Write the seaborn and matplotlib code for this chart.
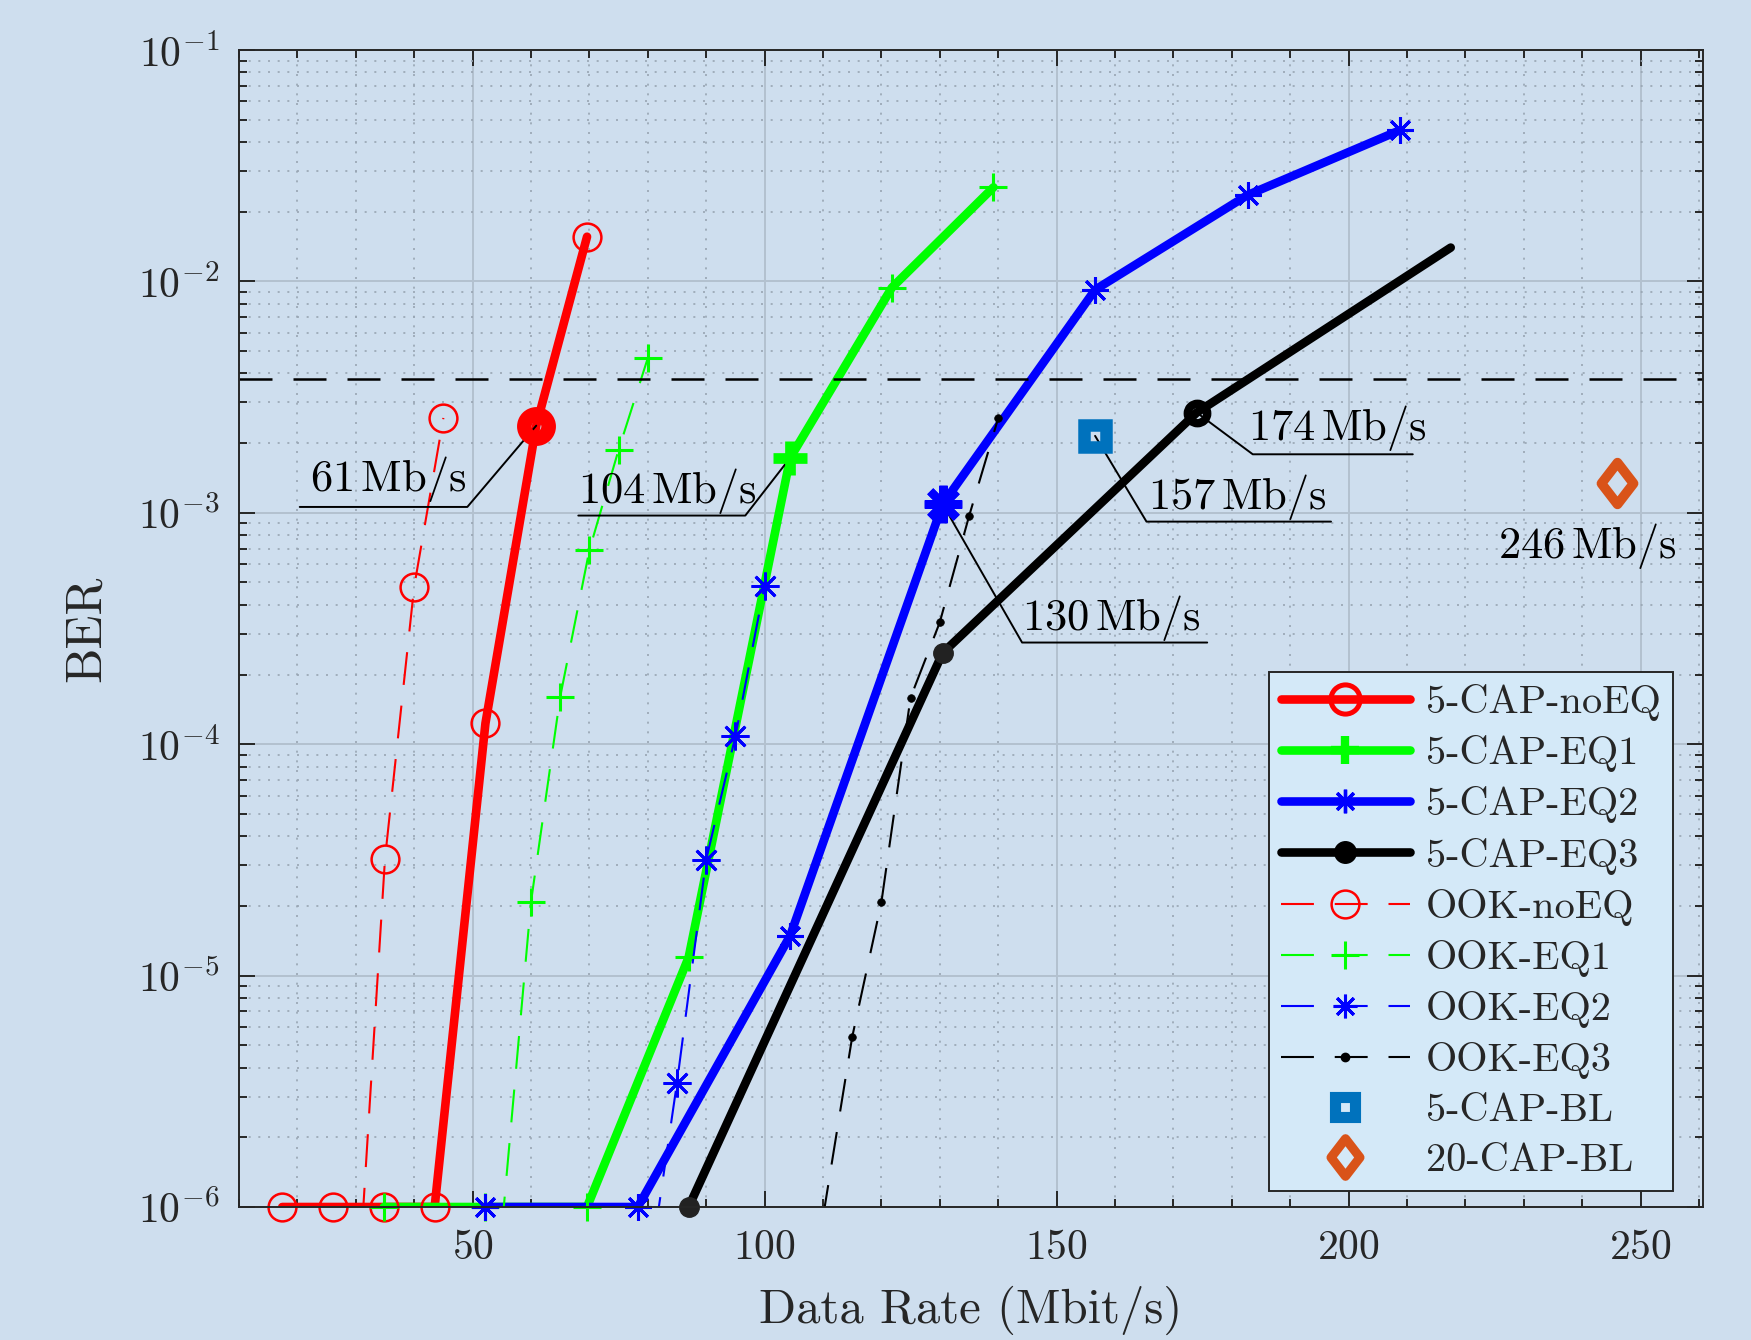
import matplotlib
matplotlib.use("Agg")
import matplotlib.pyplot as plt
import numpy as np
import seaborn as sns
from matplotlib.lines import Line2D
from matplotlib.markers import MarkerStyle
from matplotlib.path import Path
from matplotlib.ticker import MultipleLocator, LogLocator, NullFormatter

# BER against data rate, 5-CAP and OOK with the different equalisers
cap_noeq_rate = [17.4, 26.1, 34.8, 43.5, 52.2, 60.9, 69.6]
cap_noeq_ber = [1e-6, 1e-6, 1e-6, 1e-6, 1.23e-4, 2.38e-3, 1.56e-2]
cap_eq1_rate = [34.8, 52.2, 69.6, 87.0, 104.4, 121.8, 139.2]
cap_eq1_ber = [1e-6, 1e-6, 1e-6, 1.2e-5, 1.73e-3, 9.4e-3, 2.55e-2]
cap_eq2_rate = [52.2, 78.3, 104.4, 130.5, 156.6, 182.7, 208.8]
cap_eq2_ber = [1e-6, 1e-6, 1.49e-5, 1.09e-3, 9.2e-3, 2.36e-2, 4.5e-2]
cap_eq3_rate = [87.0, 130.5, 174.0, 217.5]
cap_eq3_ber = [1e-6, 2.48e-4, 2.71e-3, 1.4e-2]

ook_noeq_rate = [30, 35, 40, 45]
ook_noeq_ber = [3e-7, 3.2e-5, 4.8e-4, 2.57e-3]
ook_eq1_rate = [55, 60, 65, 70, 75, 80]
ook_eq1_ber = [8e-7, 2.08e-5, 1.6e-4, 6.9e-4, 1.87e-3, 4.66e-3]
ook_eq2_rate = [80, 85, 90, 95, 100]
ook_eq2_ber = [4.7e-7, 3.44e-6, 3.17e-5, 1.08e-4, 4.85e-4]
ook_eq3_rate = [110, 115, 120, 125, 130, 135, 140]
ook_eq3_ber = [9e-7, 5.42e-6, 2.07e-5, 1.59e-4, 3.36e-4, 9.64e-4, 2.56e-3]

bl5_rate = [156.6]
bl5_ber = [2.15e-3]
bl20_rate = [246.0]
bl20_ber = [1.34e-3]

fec_limit = 3.8e-3

legend_labels = ["5-CAP-noEQ", "5-CAP-EQ1", "5-CAP-EQ2", "5-CAP-EQ3",
                 "OOK-noEQ", "OOK-EQ1", "OOK-EQ2", "OOK-EQ3",
                 "5-CAP-BL", "20-CAP-BL"]

RED, GREEN, BLUE, BLACK = "#ff0000", "#00ff00", "#0000ff", "#000000"
BL_BLUE, BL_ORANGE = "#0072bd", "#d95319"
BG = "#cedeee"
DARK = "#262626"
ASTER = (8, 2, 0)
DIAMOND = MarkerStyle(Path([(0, 1), (0.77, 0), (0, -1), (-0.77, 0), (0, 1)],
                           [Path.MOVETO, Path.LINETO, Path.LINETO, Path.LINETO, Path.CLOSEPOLY]),
                      joinstyle="miter")
SQUARE = MarkerStyle("s", joinstyle="miter")
YMIN, YMAX = 1e-6, 1e-1

sns.set_theme(style="ticks")
plt.rcParams.update({
    "font.family": "cmr10",
    "mathtext.fontset": "cm",
    "axes.formatter.use_mathtext": True,
})

fig = plt.figure(figsize=(17.51, 13.40), dpi=100, facecolor=BG)
ax = fig.add_axes([239 / 1751, 1 - 1207 / 1340, 1464 / 1751, 1157 / 1340])
ax.set_facecolor(BG)
ax.set_yscale("log")

thick = dict(lw=6.2, solid_capstyle="round", solid_joinstyle="round")
thin = dict(lw=1.5, linestyle=(0, (15.8, 10)))


def series(rate, ber, color, line_kw, marker_kw, marker_idx=None):
    # line is clipped to the axes, markers on the BER floor are drawn whole
    sns.lineplot(x=rate, y=ber, color=color, errorbar=None, sort=False, ax=ax, **line_kw)
    r, b = np.asarray(rate), np.asarray(ber)
    keep = b >= YMIN
    if marker_idx is not None:
        keep &= np.isin(np.arange(len(r)), marker_idx)
    ax.plot(r[keep], b[keep], ls="none", clip_on=False, zorder=2.5, **marker_kw)


series(cap_noeq_rate, cap_noeq_ber, RED, thick,
       dict(marker="o", ms=20, mfc="none", mec=RED, mew=1.8))
series(cap_eq1_rate, cap_eq1_ber, GREEN, thick,
       dict(marker="+", ms=19.5, mec=GREEN, mew=2.2))
series(cap_eq2_rate, cap_eq2_ber, BLUE, thick,
       dict(marker=ASTER, ms=19, mec=BLUE, mew=2.2))
series(cap_eq3_rate, cap_eq3_ber, BLACK, thick,
       dict(marker="o", ms=14, mfc="#222222", mec="#222222", mew=1), marker_idx=[0, 1])

series(ook_noeq_rate, ook_noeq_ber, RED, thin,
       dict(marker="o", ms=20, mfc="none", mec=RED, mew=1.8))
series(ook_eq1_rate, ook_eq1_ber, GREEN, thin,
       dict(marker="+", ms=19.5, mec=GREEN, mew=2.2))
series(ook_eq2_rate, ook_eq2_ber, BLUE, thin,
       dict(marker=ASTER, ms=20, mec=BLUE, mew=2.0))
series(ook_eq3_rate, ook_eq3_ber, BLACK, thin,
       dict(marker="o", ms=5.5, mfc=BLACK, mec=BLACK, mew=0.5))

ax.plot(bl5_rate, bl5_ber, ls="none", marker=SQUARE, ms=16, mew=9,
        mec=BL_BLUE, mfc="none", zorder=5)
ax.plot(bl20_rate, bl20_ber, ls="none", marker=DIAMOND, ms=30, mew=7,
        mec=BL_ORANGE, mfc="none", zorder=5)

ax.axhline(fec_limit, color=BLACK, lw=1.8, linestyle=(0, (13.2, 8.4)), zorder=3)

# highlighted operating points at the FEC limit
i_noeq, i_eq1, i_eq2, i_eq3 = 5, 4, 3, 2
ax.plot(cap_noeq_rate[i_noeq], cap_noeq_ber[i_noeq], ls="none", marker="o", ms=17.5,
        mew=10.5, mec=RED, mfc="none", zorder=6)
ax.plot(cap_eq1_rate[i_eq1], cap_eq1_ber[i_eq1], ls="none", marker="+", ms=24.5,
        mew=7.7, mec=GREEN, zorder=6)
ax.plot(cap_eq2_rate[i_eq2], cap_eq2_ber[i_eq2], ls="none", marker=ASTER, ms=27,
        mew=6, mec=BLUE, zorder=6)
ax.plot(cap_eq3_rate[i_eq3], cap_eq3_ber[i_eq3], ls="none", marker="o", ms=14,
        mew=6, mec=BLACK, mfc="none", zorder=6)

# text labels with their leader lines
notes = [
    ("61", (cap_noeq_rate[i_noeq], cap_noeq_ber[i_noeq]), (49.1, 1.06e-3), 20.4, (48.9, 1.24e-3), "right"),
    ("104", (cap_eq1_rate[i_eq1], cap_eq1_ber[i_eq1]), (96.7, 9.73e-4), 68.1, (68.0, 1.10e-3), "left"),
    ("130", (cap_eq2_rate[i_eq2], cap_eq2_ber[i_eq2]), (144.1, 2.75e-4), 175.8, (144.1, 3.13e-4), "left"),
    ("157", (bl5_rate[0], bl5_ber[0]), (165.4, 9.16e-4), 197.0, (165.6, 1.04e-3), "left"),
    ("174", (cap_eq3_rate[i_eq3], cap_eq3_ber[i_eq3]), (183.6, 1.79e-3), 211.0, (182.7, 2.06e-3), "left"),
]
for value, pt, elbow, ux, txy, ha in notes:
    ax.plot([pt[0], elbow[0], ux], [pt[1], elbow[1], elbow[1]], color=BLACK, lw=1.4, zorder=4)
    ax.text(txy[0], txy[1], rf"${value}\,\mathrm{{Mb/s}}$", fontsize=32, ha=ha,
            va="baseline", color=BLACK, zorder=7)
ax.text(240.9, 6.37e-4, r"$246\,\mathrm{Mb/s}$", fontsize=32, ha="center",
        va="baseline", color=BLACK, zorder=7)

ax.set_xlim(10, 260.7)
ax.set_ylim(YMIN, YMAX)
ax.xaxis.set_major_locator(MultipleLocator(50))
ax.xaxis.set_minor_locator(MultipleLocator(10))
ax.yaxis.set_major_locator(LogLocator(base=10, numticks=12))
ax.yaxis.set_minor_locator(LogLocator(base=10, subs=np.arange(2, 10), numticks=100))
ax.yaxis.set_minor_formatter(NullFormatter())

ax.grid(which="major", color="#b3c1cf", lw=1.4, ls="-")
ax.grid(which="minor", color="#98a5b3", lw=1.2, ls=(0, (1.2, 4.6)))
ax.set_axisbelow(True)

ax.tick_params(which="both", direction="in", top=True, right=True, color=DARK,
               width=1.4, labelcolor=DARK, labelsize=30)
ax.tick_params(which="major", length=11.5)
ax.tick_params(which="minor", length=6)
ax.tick_params(axis="x", pad=16)
ax.tick_params(axis="y", pad=14)
for s in ax.spines.values():
    s.set_color(DARK)
    s.set_linewidth(1.4)
    s.set_visible(True)
    s.set_zorder(8)

ax.set_xlabel("Data Rate (Mbit/s)", fontsize=35, color=DARK, labelpad=14)
ax.set_ylabel("BER", fontsize=36, color=DARK, labelpad=20)

handles = [
    Line2D([], [], color=RED, lw=6.2, marker="o", ms=21, mew=3.6, mfc="none", mec=RED),
    Line2D([], [], color=GREEN, lw=6.2, marker="+", ms=19.5, mew=6, mec=GREEN),
    Line2D([], [], color=BLUE, lw=6.2, marker=ASTER, ms=17, mew=2.4, mec=BLUE),
    Line2D([], [], color=BLACK, lw=6.2, marker="o", ms=15.5, mfc=BLACK, mec=BLACK),
    Line2D([], [], color=RED, lw=1.5, ls=(0, (15.8, 10)), marker="o", ms=20, mew=1.8, mfc="none", mec=RED),
    Line2D([], [], color=GREEN, lw=1.5, ls=(0, (15.8, 10)), marker="+", ms=19.5, mew=2.2, mec=GREEN),
    Line2D([], [], color=BLUE, lw=1.5, ls=(0, (15.8, 10)), marker=ASTER, ms=17, mew=2.2, mec=BLUE),
    Line2D([], [], color=BLACK, lw=1.5, ls=(0, (15.8, 10)), marker="o", ms=6, mfc=BLACK, mec=BLACK),
    Line2D([], [], ls="none", marker=SQUARE, ms=14, mew=8, mec=BL_BLUE, mfc="none"),
    Line2D([], [], ls="none", marker=DIAMOND, ms=27, mew=6.6, mec=BL_ORANGE, mfc="none"),
]
leg = ax.legend(handles, legend_labels, loc="lower right", bbox_to_anchor=(0.9794, 0.0134),
                borderaxespad=0, fontsize=29, frameon=True, fancybox=False,
                edgecolor=DARK, facecolor="#d4e9f8", framealpha=1, handlelength=3.2,
                handletextpad=0.4, labelspacing=0.35, borderpad=0.3, numpoints=1)
leg.get_frame().set_linewidth(1.4)
leg.set_zorder(10)

fig.savefig("out.png", dpi=100, facecolor=BG)
